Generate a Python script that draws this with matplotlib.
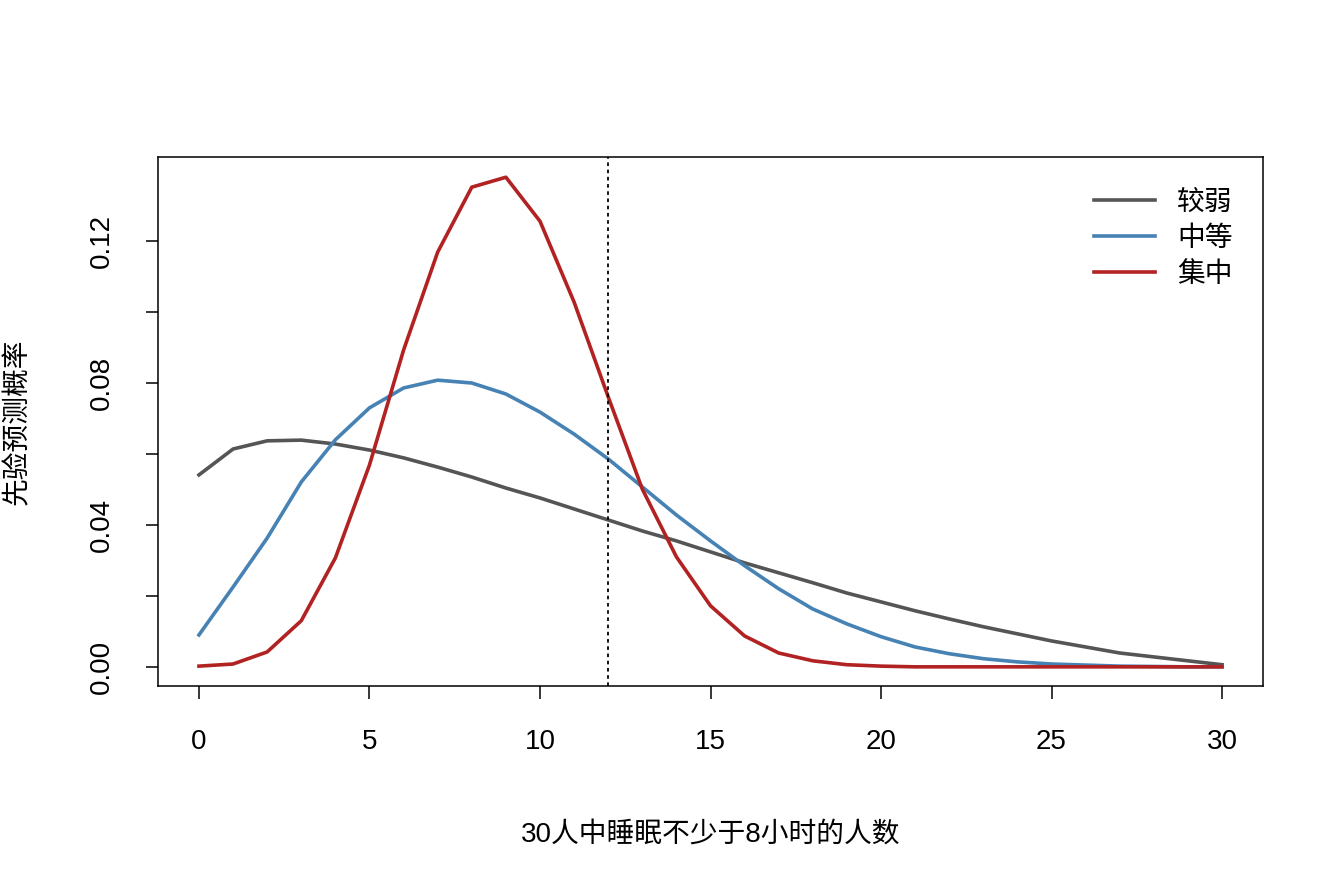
import matplotlib
matplotlib.use("Agg")
import matplotlib.pyplot as plt

plt.rcParams['font.family'] = ['Liberation Sans', 'Noto Sans CJK SC', 'DejaVu Sans']

x = list(range(31))
weak = [0.0541,0.0614,0.0637,0.0639,0.0628,0.0611,0.0589,0.0563,0.0535,0.0504,0.0476,0.0445,0.0414,0.0383,0.0355,0.0324,0.0293,0.0265,0.0237,0.0208,0.0183,0.0158,0.0135,0.0113,0.0093,0.0073,0.0056,0.0039,0.0028,0.0017,0.0006]
medium = [0.009,0.0225,0.0363,0.0521,0.064,0.073,0.0786,0.0808,0.080,0.0769,0.0718,0.0656,0.0586,0.0507,0.0428,0.0355,0.0285,0.022,0.0163,0.0121,0.0085,0.0056,0.0037,0.0023,0.0014,0.0008,0.0005,0.0002,0.0001,0.0,0.0]
strong = [0.0002,0.0008,0.0042,0.013,0.0307,0.0569,0.0893,0.1169,0.1352,0.138,0.1256,0.1028,0.0761,0.0501,0.031,0.0172,0.0087,0.0039,0.0017,0.0006,0.0002,0,0,0,0,0,0,0,0,0,0]
labels = ['较弱', '中等', '集中']
colors = ['#555555', '#4682B4', '#B22222']
observed = 12

fig = plt.figure(figsize=(13.44, 8.83), dpi=100)
ax = fig.add_axes([0.1176, 0.2231, 0.8221, 0.5991])
for ys, lab, c in zip([weak, medium, strong], labels, colors):
    ax.plot(x, ys, color=c, lw=2.6, label=lab)
ax.axvline(observed, color='black', ls=(0, (2, 2)), lw=1.3)
ax.set_xlim(-1.2, 31.2)
ax.set_ylim(-0.0054, 0.1437)
ax.set_xticks([0, 5, 10, 15, 20, 25, 30])
ax.set_yticks([0, 0.02, 0.04, 0.06, 0.08, 0.10, 0.12])
ax.set_yticklabels(['0.00', '', '0.04', '', '0.08', '', '0.12'], rotation=90, va='center')
ax.tick_params(labelsize=20, length=9, width=1.1)
ax.tick_params(axis='x', pad=22)
ax.tick_params(axis='y', pad=22)
for s in ax.spines.values():
    s.set_linewidth(1.1)
ax.set_xlabel('30人中睡眠不少于8小时的人数', fontsize=20, labelpad=48)
ax.set_ylabel('先验预测概率', fontsize=20, labelpad=42)
ax.legend(loc='upper right', frameon=False, fontsize=20, handlelength=2.2,
          borderaxespad=0.7, labelspacing=0.35, bbox_to_anchor=(1.0, 0.995))
fig.savefig('out.png', dpi=100)
